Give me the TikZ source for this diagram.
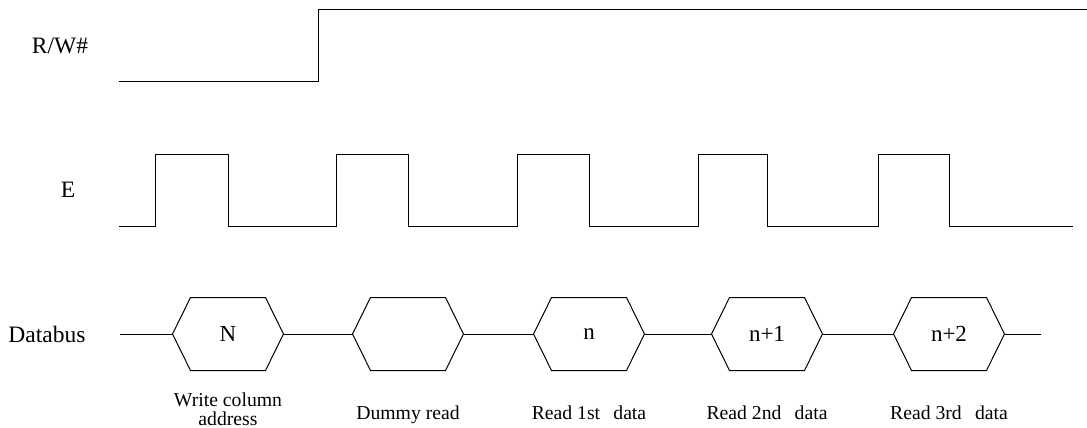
\documentclass[tikz,border=0pt]{standalone}
\usepackage{fontspec}
\setmainfont{Liberation Serif}
\begin{document}
\begin{tikzpicture}[x=1pt,y=-1pt,line width=1pt,line join=miter,
  wave/.style={draw},
  lbl/.style={font=\fontsize{23.5}{27}\selectfont,inner sep=0pt},
  captxt/.style={font=\fontsize{19.7}{18.5}\selectfont,inner sep=0pt,align=center,anchor=base},
  hexbox/.style={minimum width=110pt,minimum height=72pt,inner sep=0pt,font=\fontsize{23}{27}\selectfont}]
\useasboundingbox (0,0) rectangle (1087,428);
% labels
\node[lbl] (rwl) at (60,46) {R/W\#};
\node[lbl] (el) at (68,190) {E};
\node[lbl] (dbl) at (47,334) {Databus};
% R/W#
\draw[wave] (119,82) -- (318,82) -- (318,10) -- (1087,10);
% E
\draw[wave] (119,226) -- (155,226) -- (155,154) -- (228,154) -- (228,226)
  -- (336,226) -- (336,154) -- (408,154) -- (408,226)
  -- (517,226) -- (517,154) -- (589,154) -- (589,226)
  -- (698,226) -- (698,154) -- (767,154) -- (767,226)
  -- (878,226) -- (878,154) -- (949,154) -- (949,226) -- (1073,226);
% Databus
\node[hexbox] (h1) at (228,334) {N};
\node[hexbox] (h2) at (408,334) {};
\node[hexbox] (h3) at (589,334) {n};
\node[hexbox] (h4) at (767,334) {n+1};
\node[hexbox] (h5) at (949,334) {n+2};
\foreach \h in {h1,h2,h3,h4,h5}{
  \draw (\h.west) -- ([xshift=18pt]\h.north west) -- ([xshift=-18pt]\h.north east)
    -- (\h.east) -- ([xshift=-18pt]\h.south east) -- ([xshift=18pt]\h.south west) -- cycle;
}
\coordinate (bs) at (120,334);
\coordinate (be) at (1041,334);
\draw (bs) -- (h1.west);
\draw (h1.east) -- (h2.west);
\draw (h2.east) -- (h3.west);
\draw (h3.east) -- (h4.west);
\draw (h4.east) -- (h5.west);
\draw (h5.east) -- (be);
% captions
\node[captxt] (c1) at (228,425) {Write column\\address};
\node[captxt] (c2) at (408,419) {Dummy read};
\node[captxt] (c3) at (589,419) {Read 1st\hspace{0.42em} data};
\node[captxt] (c4) at (767,419) {Read 2nd\hspace{0.42em} data};
\node[captxt] (c5) at (949,419) {Read 3rd\hspace{0.42em} data};
\end{tikzpicture}
\end{document}
